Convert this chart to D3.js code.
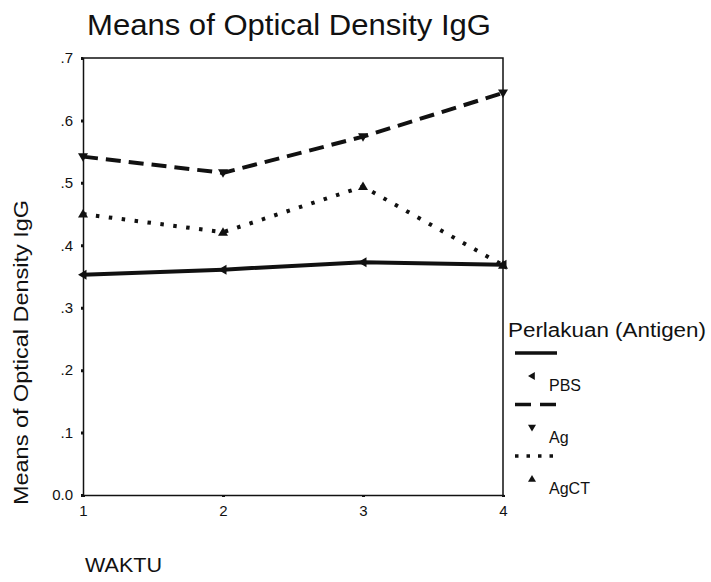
<!DOCTYPE html>
<html>
<head>
<meta charset="utf-8">
<script src="https://cdn.jsdelivr.net/npm/d3@7"></script>
<style>
  body { margin: 0; background: #fff; }
  text { font-family: "Liberation Sans", Arial, sans-serif; fill: #111; }
</style>
</head>
<body>
<div id="chart"></div>
<script>
// data
let waktu = [1, 2, 3, 4];
let y_ticks = [0, 0.1, 0.2, 0.3, 0.4, 0.5, 0.6, 0.7];
let pbs = [0.353, 0.361, 0.373, 0.369];
let ag = [0.542, 0.516, 0.574, 0.644];
let agct = [0.450, 0.421, 0.494, 0.368];
let series_names = ["PBS", "Ag", "AgCT"];

let opts = {
  width: 711,
  height: 582,
  left: 83,
  right: 503,
  top: 58,
  bottom: 495,
};

let styles = {
  PBS: { dash: null, leg_dash: null, symbol: "left" },
  Ag: { dash: "15,8", leg_dash: "16,9", symbol: "down" },
  AgCT: { dash: "3.5,9.5", leg_dash: "3.5,8", symbol: "up" },
};

let svg = d3
  .select("#chart")
  .append("svg")
  .attr("width", opts.width)
  .attr("height", opts.height);

let x = d3.scaleLinear().domain([1, 4]).range([opts.left, opts.right]);
let y = d3.scaleLinear().domain([0, 0.7]).range([opts.bottom, opts.top]);

// title
svg
  .append("text")
  .attr("x", 87)
  .attr("y", 35)
  .attr("font-size", 30)
  .attr("textLength", 404)
  .attr("lengthAdjust", "spacingAndGlyphs")
  .text("Means of Optical Density IgG");

// frame (top + right)
svg
  .append("path")
  .attr("d", `M${opts.left},${opts.top}H${opts.right}V${opts.bottom}`)
  .attr("fill", "none")
  .attr("stroke", "#111")
  .attr("stroke-width", 1.5);

// y axis
let yAxis = svg
  .append("g")
  .attr("transform", `translate(${opts.left},0)`)
  .call(
    d3
      .axisLeft(y)
      .tickValues(y_ticks)
      .tickSize(2)
      .tickPadding(8)
      .tickFormat((d) => (d === 0 ? "0.0" : d3.format(".1f")(d).replace(/^0/, "")))
  );
yAxis.select(".domain").attr("stroke", "#111").attr("stroke-width", 1.5);
yAxis.selectAll(".tick line").attr("stroke", "#111").attr("stroke-width", 3);
yAxis.selectAll(".tick text").attr("font-size", 15);

// x axis
let xAxis = svg
  .append("g")
  .attr("transform", `translate(0,${opts.bottom})`)
  .call(d3.axisBottom(x).tickValues(waktu).tickSize(2).tickPadding(8).tickFormat(d3.format("d")));
xAxis.select(".domain").attr("stroke", "#111").attr("stroke-width", 1.5);
xAxis.selectAll(".tick line").attr("stroke", "#111").attr("stroke-width", 3);
xAxis.selectAll(".tick text").attr("font-size", 15);

// axis titles
svg
  .append("text")
  .attr("transform", `translate(28,${(200 + 505) / 2}) rotate(-90)`)
  .attr("text-anchor", "middle")
  .attr("font-size", 21)
  .attr("textLength", 305)
  .attr("lengthAdjust", "spacingAndGlyphs")
  .text("Means of Optical Density IgG");

svg
  .append("text")
  .attr("x", 85)
  .attr("y", 572)
  .attr("font-size", 20)
  .attr("textLength", 77)
  .attr("lengthAdjust", "spacingAndGlyphs")
  .text("WAKTU");

// triangle markers
function triangle(dir, s) {
  let pts;
  if (dir === "up") pts = [[0, -s], [s, s * 0.7], [-s, s * 0.7]];
  else if (dir === "down") pts = [[0, s], [s, -s * 0.7], [-s, -s * 0.7]];
  else pts = [[-s, 0], [s * 0.7, -s], [s * 0.7, s]];
  return "M" + pts.map((p) => p.join(",")).join("L") + "Z";
}

let line = d3
  .line()
  .x((d, i) => x(waktu[i]))
  .y((d) => y(d));

let all_series = [pbs, ag, agct];

all_series.forEach((vals, k) => {
  let name = series_names[k];
  let st = styles[name];
  svg
    .append("path")
    .datum(vals)
    .attr("d", line)
    .attr("fill", "none")
    .attr("stroke", "#111")
    .attr("stroke-width", 4)
    .attr("stroke-dasharray", st.dash);

  svg
    .selectAll(".m" + name)
    .data(vals)
    .join("path")
    .attr("class", "m" + name)
    .attr("transform", (d, i) => `translate(${x(waktu[i])},${y(d)})`)
    .attr("d", triangle(st.symbol, 5))
    .attr("fill", "#111");
});

// legend
let leg = svg.append("g");
leg
  .append("text")
  .attr("x", 508)
  .attr("y", 337)
  .attr("font-size", 20)
  .attr("textLength", 198)
  .attr("lengthAdjust", "spacingAndGlyphs")
  .text("Perlakuan (Antigen)");

series_names.forEach((name, k) => {
  let st = styles[name];
  let y0 = 353 + k * 51.5;
  leg
    .append("line")
    .attr("x1", 515)
    .attr("x2", 557)
    .attr("y1", y0)
    .attr("y2", y0)
    .attr("stroke", "#111")
    .attr("stroke-width", 3.5)
    .attr("stroke-dasharray", st.leg_dash);
  leg
    .append("path")
    .attr("transform", `translate(532,${y0 + 23})`)
    .attr("d", triangle(st.symbol, 4))
    .attr("fill", "#111");
  leg
    .append("text")
    .attr("x", 549)
    .attr("y", y0 + 38)
    .attr("font-size", 16)
    .text(name);
});
</script>
</body>
</html>
